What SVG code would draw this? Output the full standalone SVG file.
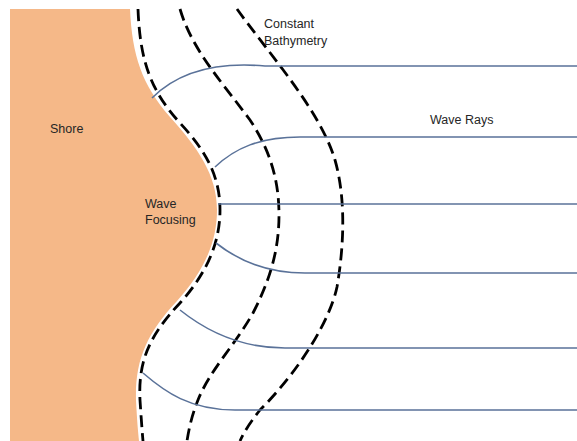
<svg xmlns="http://www.w3.org/2000/svg" width="577" height="441" viewBox="0 0 577 441">
  <style>
    .lbl { font-family: "Liberation Sans", Arial, sans-serif; font-size: 12.5px; fill: #262626; }
    .ray { fill: none; stroke: #5a7299; stroke-width: 1.6; }
    .bathy { fill: none; stroke: #000; stroke-width: 2.8; stroke-dasharray: 12 6; }
  </style>
  <rect width="577" height="441" fill="#ffffff"/>
  <g id="shore">
    <path d="M10,9 L130,9 C132,55 142,85 170,117 C198,148 217,175 217,210 C217,245 202,273 177,301 C147,333 135,360 136,400 C137,420 138,432 139,441 L10,441 Z" fill="#f5b888"/>
    <text class="lbl" x="50" y="133">Shore</text>
  </g>
  <g id="bathymetry">
    <path class="bathy" d="M138,9 C140,60 150,90 180,123 C205,150 220,175 220,210 C220,245 205,275 180,303 C150,335 138,360 140,400 C141,415 142,430 143,441"/>
    <path class="bathy" d="M180,9 C192,50 222,82 250,120 C270,150 279,180 279,215 C279,250 270,280 253,313 C235,345 210,370 198,400 C192,415 189,428 187,441"/>
    <path class="bathy" d="M237,9 C270,55 320,110 335,160 C345,195 345,240 337,287 C330,320 300,370 260,410 C252,420 245,430 240,441"/>
  </g>
  <g id="connectors">
    <path class="ray" d="M152,98 C180,70 220,62 265,66 L577,66"/>
    <path class="ray" d="M215,167 C235,148 260,137 300,137 L577,137"/>
    <path class="ray" d="M218,204 L577,204"/>
    <path class="ray" d="M216,243 C235,258 265,273 305,273 L577,273"/>
    <path class="ray" d="M180,310 C205,330 240,348 285,348 L577,348"/>
    <path class="ray" d="M143,373 C165,392 190,410 235,410 L577,410"/>
  </g>
  <g id="wave-focusing">
    <text class="lbl" x="145" y="208">Wave</text>
    <text class="lbl" x="145" y="224">Focusing</text>
  </g>
  <g id="constant-bathymetry">
    <text class="lbl" x="264" y="28">Constant</text>
    <text class="lbl" x="264" y="45">Bathymetry</text>
  </g>
  <g id="wave-rays">
    <text class="lbl" x="430" y="124">Wave Rays</text>
  </g>
</svg>
